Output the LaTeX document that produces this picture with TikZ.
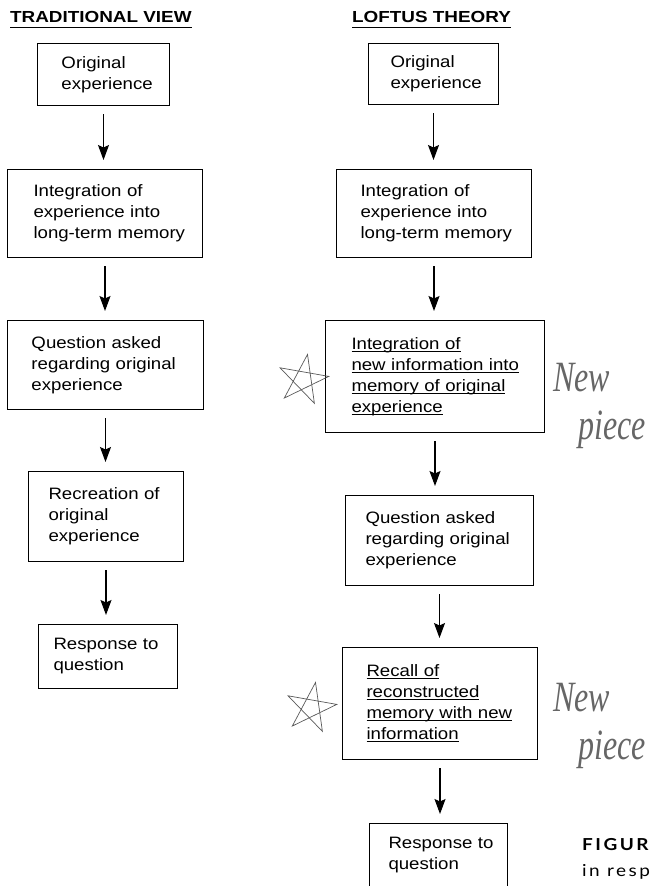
\documentclass[tikz,border=0pt]{standalone}
\usepackage{fontspec}
\usepackage{graphicx}
\setmainfont{Liberation Sans}[FakeStretch=1.13]
\newfontfamily\titlefont{Liberation Sans}[FakeStretch=1.18]
\newfontfamily\handfont{Liberation Serif}
\newfontfamily\capfont{Lato}[FakeStretch=1.15,LetterSpace=15]
\usetikzlibrary{arrows.meta}
\newcommand\ulline[1]{\leavevmode\setbox0\hbox{#1}\rlap{\rule[-2.5pt]{\wd0}{0.9pt}}\box0}

\begin{document}
\begin{tikzpicture}[x=1pt,y=-1pt,
    stage/.style 2 args={draw, line width=1pt, anchor=north west, inner sep=0pt,
        align=left, text width=#1pt, minimum height=#2pt,
        font=\fontsize{16.5}{21}\selectfont},
    lpad/.style={execute at begin node={\leftskip=#1pt}},
    flow/.style={-{Stealth[length=15pt,width=11pt,inset=2.5pt]}, line width=1.1pt,
        shorten <=8pt, shorten >=9pt},
    heading/.style={anchor=base west, inner sep=0pt,
        font=\titlefont\bfseries\fontsize{16}{16}\selectfont},
    hand/.style={anchor=base west, inner sep=0pt, text=black!60,
        font=\handfont\itshape\fontsize{32}{32}\selectfont}]
    \useasboundingbox (0,0) rectangle (652,886);
    %headings
    \node[heading] (trHead) at (10,23) {TRADITIONAL VIEW};
    \node[heading] (loHead) at (352,23) {LOFTUS THEORY};
    \draw[line width=0.9pt] ([yshift=-4.5pt]trHead.base west) -- ([yshift=-4.5pt]trHead.base east);
    \draw[line width=0.9pt] ([yshift=-4.5pt]loHead.base west) -- ([yshift=-4.5pt]loHead.base east);
    %traditional view
    \node[stage={132}{62}, lpad=24] (trOrig) at (37,43) {Original\\experience};
    \node[stage={195}{88}, lpad=26] (trInteg) at (7,169) {Integration of\\experience into\\long-term memory};
    \node[stage={196}{89}, lpad=24] (trQuest) at (7,320) {Question asked\\regarding original\\experience};
    \node[stage={155}{90}, lpad=20] (trRecr) at (28,471) {Recreation of\\original\\experience};
    \node[stage={139}{64}, lpad=15] (trResp) at (38,624) {Response to\\question};
    %loftus theory
    \node[stage={130}{61}, lpad=22] (loOrig) at (368,43) {Original\\experience};
    \node[stage={195}{88}, lpad=24] (loInteg) at (336,169) {Integration of\\experience into\\long-term memory};
    \node[stage={219}{112}, lpad=26] (loNew) at (325,320)
        {\ulline{Integration of}\\\ulline{new information into}\\\ulline{memory of original}\\\ulline{experience}};
    \node[stage={188}{90}, lpad=20] (loQuest) at (345,495) {Question asked\\regarding original\\experience};
    \node[stage={195}{112}, lpad=24] (loRecall) at (342,647)
        {\ulline{Recall of}\\\ulline{reconstructed}\\\ulline{memory with new}\\\ulline{information}};
    \node[stage={138}{64}, lpad=19] (loResp) at (369,823) {Response to\\question};
    %arrows
    \foreach \a/\b in {trOrig/trInteg, trInteg/trQuest, trQuest/trRecr, trRecr/trResp,
        loOrig/loInteg, loInteg/loNew, loNew/loQuest, loQuest/loRecall, loRecall/loResp}
        \draw[flow] (\a.south) -- (\a.south |- \b.north);
    %notes in the margin
    \foreach \sx/\sy in {303/380, 311/708}
        \draw[line width=0.7pt, black!65, shift={(\sx,\sy)}, rotate=-10]
            (270:26) -- (54:26) -- (198:26) -- (342:26) -- (126:26) -- cycle;
    \foreach \n/\dy in {1/0, 2/320} {
        \node[hand] (new\n) at (553,391+\dy) {\scalebox{1}[1.35]{New}};
        \node[hand] (piece\n) at (578,439+\dy) {\scalebox{1}[1.35]{piece}};
    }
    %caption
    \node[anchor=base west, inner sep=0pt, font=\capfont\bfseries\fontsize{16.5}{20}\selectfont]
        (figCap) at (582,850) {FIGUR};
    \node[anchor=base west, inner sep=0pt, font=\capfont\fontsize{16.5}{20}\selectfont]
        (figText) at (582,876) {in resp};
\end{tikzpicture}
\end{document}
